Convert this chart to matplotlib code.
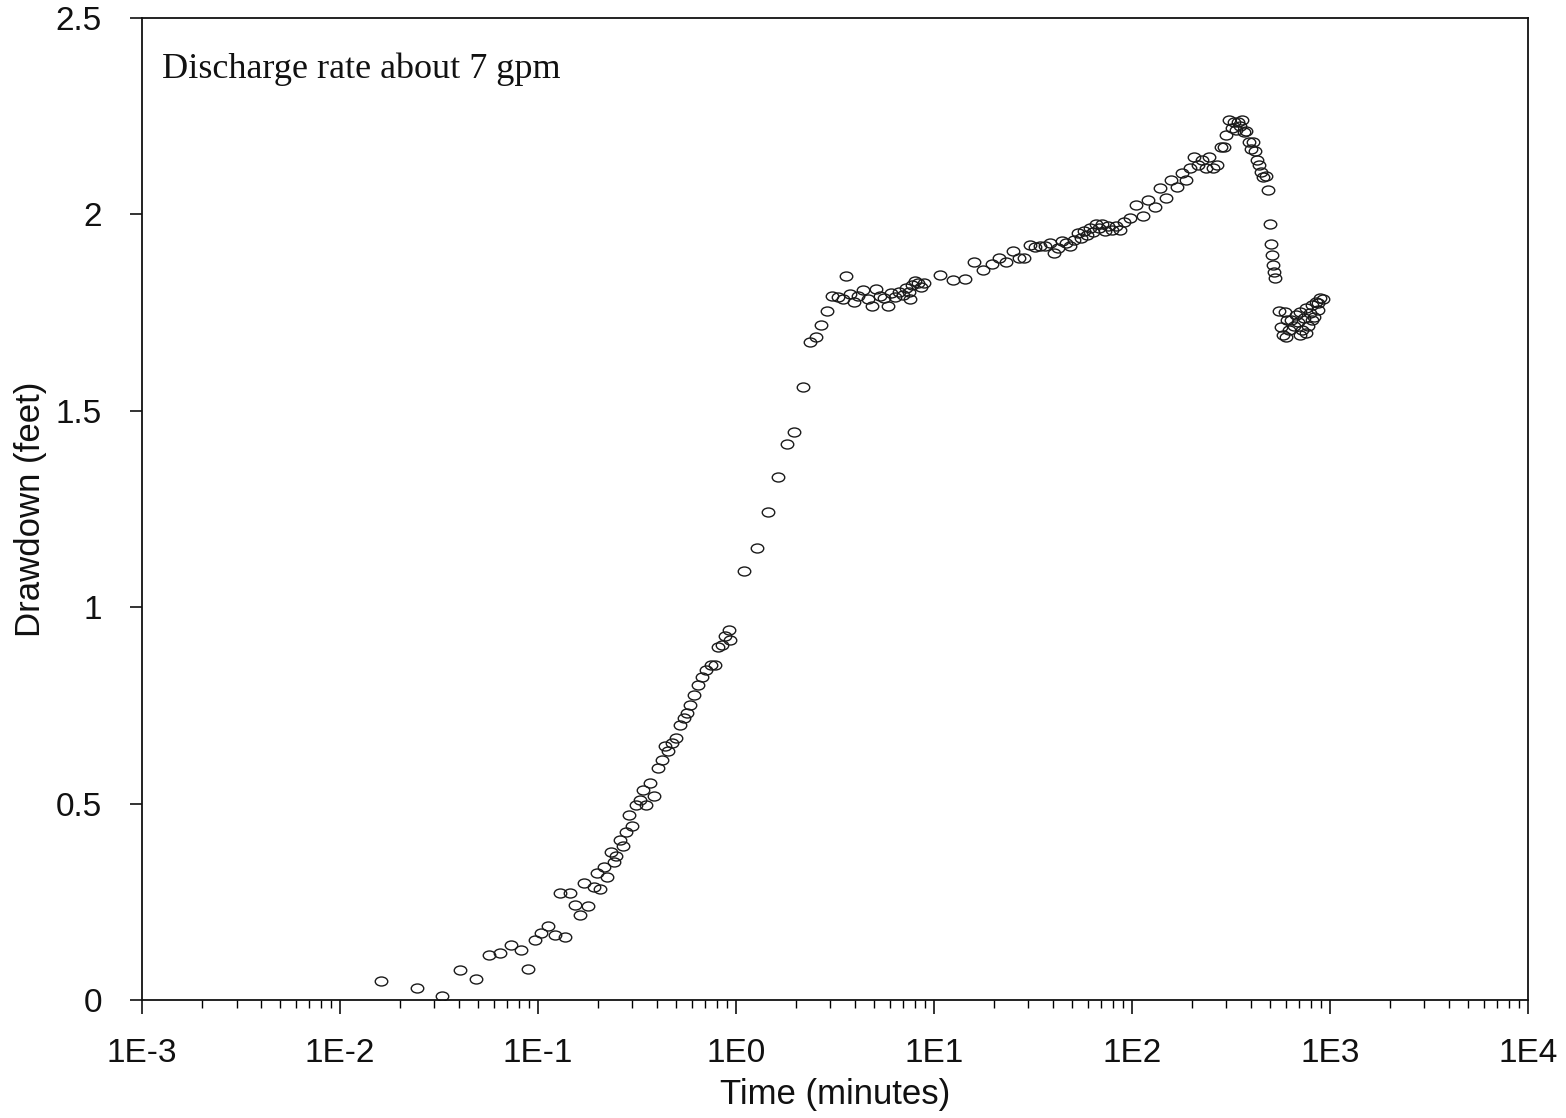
import numpy as np
import matplotlib
matplotlib.use("Agg")
import matplotlib.pyplot as plt
from matplotlib.path import Path
from matplotlib.ticker import FixedLocator, FixedFormatter, LogLocator, NullFormatter

# pumping test record: elapsed time (minutes) and drawdown (feet)
time_min = [
    0.0161, 0.0245, 0.0327, 0.0404, 0.0486, 0.0566, 0.0643, 0.0731, 0.082, 0.0889,
    0.0966, 0.1035, 0.1125, 0.122, 0.137, 0.129, 0.145, 0.154, 0.163, 0.179,
    0.171, 0.192, 0.199, 0.206, 0.215, 0.223, 0.234, 0.242, 0.248, 0.259,
    0.268, 0.278, 0.288, 0.299, 0.313, 0.327, 0.339, 0.351, 0.368, 0.385,
    0.404, 0.423, 0.438, 0.454, 0.475, 0.498, 0.521, 0.546, 0.566, 0.586,
    0.614, 0.643, 0.673, 0.705, 0.748, 0.784, 0.811, 0.849, 0.879, 0.922,
    0.935,
    1.097, 1.277, 1.452, 1.630, 1.811, 1.963, 2.18, 2.364, 2.535, 2.687,
    2.882, 3.055, 3.273, 3.47, 3.59, 3.76, 3.94, 4.13, 4.38, 4.64,
    4.86, 5.09, 5.34, 5.59, 5.86, 6.07, 6.35, 6.65, 6.97, 7.22,
    7.48, 7.75, 8.02, 8.30, 8.60, 8.90, 7.6,
    10.7, 12.5, 14.3, 15.9, 17.7, 19.6, 21.3, 23.1, 25.1, 26.9,
    28.5, 30.5, 32.4, 34.3, 36.4, 38.5, 40.4, 42.3, 44.3, 46.4,
    48.6, 50.9, 53.3, 55.2, 57.2, 59.3, 61.4, 63.5, 65.8, 68.1,
    70.5, 73.1, 75.7, 79.2, 83.0, 86.9, 91.2, 97.7, 104.7, 113.7,
    120.5, 130.6, 138.5, 148.6, 157.4, 168.7, 179.1, 187.5, 196.4, 205.6,
    215.4, 225.7, 236.4, 244.9, 256.5, 268.7, 281.5, 291.6, 298.4, 309.0,
    320.0, 327.6, 335.3, 343.2, 351.3, 359.6, 368.1, 376.8, 390.3, 399.4,
    408.8, 418.4, 428.2, 438.2, 448.5, 459.0, 475.4, 486.4, 497.8, 503.6,
    509.4, 515.4, 521.4, 527.5,
    552, 593, 565, 578, 600, 621, 635, 658, 673, 689,
    705, 722, 739, 757, 775, 793, 812, 830, 850, 870,
    890, 705, 610, 757, 812, 870, 922,
]
drawdown_ft = [
    0.048, 0.031, 0.010, 0.076, 0.053, 0.115, 0.120, 0.140, 0.127, 0.079,
    0.153, 0.170, 0.188, 0.165, 0.160, 0.272, 0.272, 0.242, 0.216, 0.239,
    0.298, 0.288, 0.323, 0.283, 0.339, 0.313, 0.377, 0.351, 0.367, 0.407,
    0.392, 0.428, 0.471, 0.443, 0.496, 0.509, 0.535, 0.496, 0.552, 0.519,
    0.591, 0.611, 0.647, 0.634, 0.654, 0.667, 0.700, 0.718, 0.731, 0.751,
    0.776, 0.802, 0.822, 0.840, 0.853, 0.853, 0.899, 0.904, 0.927, 0.942,
    0.916,
    1.092, 1.151, 1.242, 1.331, 1.415, 1.446, 1.561, 1.675, 1.688, 1.718,
    1.754, 1.792, 1.790, 1.785, 1.843, 1.797, 1.777, 1.792, 1.808, 1.785,
    1.767, 1.810, 1.792, 1.787, 1.767, 1.800, 1.790, 1.802, 1.795, 1.813,
    1.802, 1.820, 1.830, 1.825, 1.815, 1.825, 1.785,
    1.846, 1.833, 1.835, 1.879, 1.858, 1.873, 1.889, 1.879, 1.907, 1.889,
    1.889, 1.922, 1.917, 1.920, 1.920, 1.927, 1.902, 1.915, 1.933, 1.927,
    1.920, 1.935, 1.953, 1.940, 1.958, 1.948, 1.965, 1.955, 1.976, 1.965,
    1.976, 1.958, 1.970, 1.960, 1.970, 1.960, 1.981, 1.991, 2.024, 1.996,
    2.037, 2.019, 2.067, 2.042, 2.088, 2.070, 2.105, 2.088, 2.118, 2.146,
    2.126, 2.138, 2.118, 2.146, 2.118, 2.126, 2.172, 2.172, 2.202, 2.240,
    2.220, 2.235, 2.215, 2.235, 2.225, 2.240, 2.209, 2.212, 2.184, 2.166,
    2.184, 2.161, 2.138, 2.126, 2.108, 2.095, 2.098, 2.062, 1.976, 1.925,
    1.897, 1.871, 1.853, 1.838,
    1.754, 1.751, 1.713, 1.693, 1.688, 1.706, 1.731, 1.716, 1.744, 1.726,
    1.751, 1.706, 1.736, 1.762, 1.716, 1.749, 1.769, 1.739, 1.777, 1.757,
    1.787, 1.693, 1.731, 1.698, 1.731, 1.775, 1.785,
]

x_ticks = [1e-3, 1e-2, 1e-1, 1e0, 1e1, 1e2, 1e3, 1e4]
x_tick_labels = ["1E-3", "1E-2", "1E-1", "1E0", "1E1", "1E2", "1E3", "1E4"]
y_ticks = [0, 0.5, 1, 1.5, 2, 2.5]
y_tick_labels = ["0", "0.5", "1", "1.5", "2", "2.5"]

# slightly flattened open circle marker
circ = Path.unit_circle()
oval = Path(circ.vertices * np.array([1.0, 0.72]), circ.codes)

plt.rcParams["font.family"] = ["Liberation Sans", "DejaVu Sans"]

fig = plt.figure(figsize=(15.66, 11.18), dpi=100)
ax = fig.add_axes([0.0907, 0.1055, 0.885, 0.8784])

ax.plot(time_min, drawdown_ft, linestyle="none", marker=oval, markersize=9,
        markerfacecolor="none", markeredgecolor="#1a1a1a", markeredgewidth=1.0)

ax.set_xscale("log")
ax.set_xlim(1e-3, 1e4)
ax.set_ylim(0, 2.5)

ax.xaxis.set_major_locator(FixedLocator(x_ticks))
ax.xaxis.set_major_formatter(FixedFormatter(x_tick_labels))
ax.xaxis.set_minor_locator(LogLocator(base=10, subs=np.arange(2, 10), numticks=20))
ax.xaxis.set_minor_formatter(NullFormatter())
ax.yaxis.set_major_locator(FixedLocator(y_ticks))
ax.yaxis.set_major_formatter(FixedFormatter(y_tick_labels))

ax.tick_params(axis="x", which="major", direction="out", length=10, width=1.2,
               labelsize=24, pad=17, colors="#111111")
ax.tick_params(axis="x", which="minor", direction="out", length=6, width=1.0)
ax.tick_params(axis="y", which="major", direction="out", length=9, width=1.2,
               labelsize=24, pad=20, colors="#111111")

for s in ax.spines.values():
    s.set_linewidth(1.3)
    s.set_color("#111111")

ax.set_xlabel("Time (minutes)", fontsize=25, labelpad=7, color="#111111")
ax.set_ylabel("Drawdown (feet)", fontsize=25, labelpad=6, color="#111111")

ax.text(0.0144, 0.948, "Discharge rate about 7 gpm", transform=ax.transAxes,
        fontsize=26, family="Liberation Serif", va="center", ha="left",
        color="#111111")

fig.savefig("out.png", dpi=100)
